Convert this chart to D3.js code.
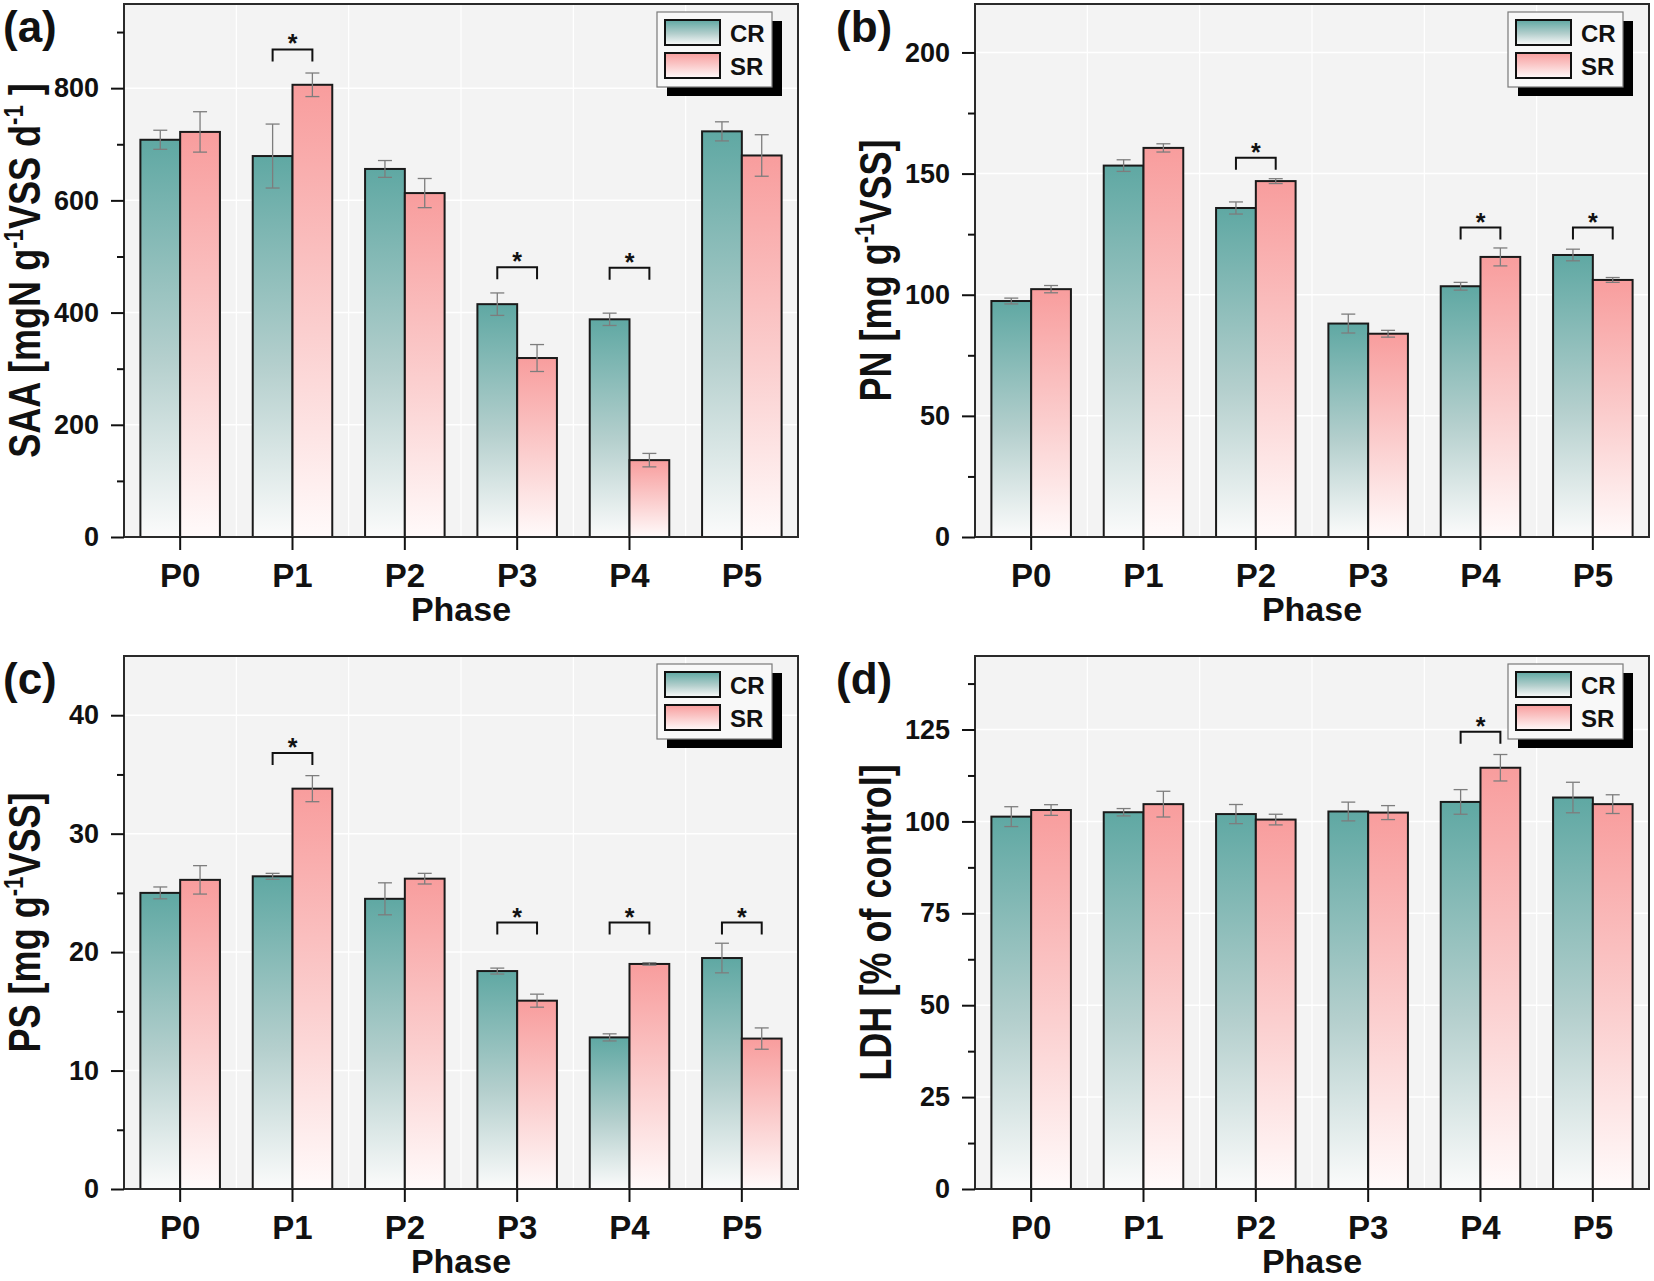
<!DOCTYPE html>
<html>
<head>
<meta charset="utf-8">
<script src="https://cdn.jsdelivr.net/npm/d3@7"></script>
<style>
  html, body { margin: 0; padding: 0; background: #ffffff; }
  svg { display: block; }
  text { font-family: "Liberation Sans", Arial, Helvetica, sans-serif; font-weight: bold; fill: #111; }
</style>
</head>
<body>
<svg id="chart" width="1654" height="1281"></svg>
<script>
// ---------------- DATA ----------------
const phases = ["P0", "P1", "P2", "P3", "P4", "P5"];
const seriesNames = ["CR", "SR"];

// (a) SAA
const saaCR = [708, 679, 656, 415, 388, 723];
const saaCRerr = [17, 57, 15, 20, 11, 17];
const saaSR = [722, 806, 613, 319, 137, 680];
const saaSRerr = [36, 21, 26, 24, 12, 37];
const saaTicks = [0, 200, 400, 600, 800];
const saaMinor = [100, 300, 500, 700, 900];
const saaSigPhases = ["P1", "P3", "P4"];
const saaSigY = [869, 481, 480];

// (b) PN
const pnCR = [97.4, 153.3, 135.8, 88.1, 103.5, 116.4];
const pnCRerr = [1.2, 2.4, 2.5, 3.9, 1.6, 2.4];
const pnSR = [102.3, 160.6, 146.9, 83.9, 115.6, 106.1];
const pnSRerr = [1.5, 1.7, 1.0, 1.4, 3.7, 1.0];
const pnTicks = [0, 50, 100, 150, 200];
const pnMinor = [25, 75, 125, 175];
const pnSigPhases = ["P2", "P4", "P5"];
const pnSigY = [156.5, 127.7, 127.7];

// (c) PS
const psCR = [25.0, 26.4, 24.5, 18.4, 12.8, 19.5];
const psCRerr = [0.5, 0.25, 1.35, 0.25, 0.3, 1.25];
const psSR = [26.1, 33.8, 26.2, 15.9, 19.0, 12.7];
const psSRerr = [1.2, 1.1, 0.45, 0.55, 0.1, 0.9];
const psTicks = [0, 10, 20, 30, 40];
const psMinor = [5, 15, 25, 35];
const psSigPhases = ["P1", "P3", "P4", "P5"];
const psSigY = [36.8, 22.5, 22.5, 22.5];

// (d) LDH
const ldhCR = [101.3, 102.5, 102.0, 102.7, 105.3, 106.5];
const ldhCRerr = [2.7, 1.0, 2.6, 2.55, 3.35, 4.15];
const ldhSR = [103.1, 104.7, 100.5, 102.4, 114.6, 104.7];
const ldhSRerr = [1.45, 3.5, 1.45, 1.9, 3.6, 2.55];
const ldhTicks = [0, 25, 50, 75, 100, 125];
const ldhMinor = [12.5, 37.5, 62.5, 87.5, 112.5, 137.5];
const ldhSigPhases = ["P4"];
const ldhSigY = [124.4];

// ---------------- LAYOUT / STYLE ----------------
const panels = [
  { tag: "(a)", tagX: 3, left: 124, right: 798, top: 4, bottom: 537, ymax: 950,
    cr: saaCR, crErr: saaCRerr, sr: saaSR, srErr: saaSRerr, ticks: saaTicks, minor: saaMinor,
    sigP: saaSigPhases, sigY: saaSigY,
    title: [["SAA [mgN g", false], ["-1", true], ["VSS d", false], ["-1", true], [" ]", false]] },
  { tag: "(b)", tagX: 836, left: 975, right: 1649, top: 4, bottom: 537, ymax: 220,
    cr: pnCR, crErr: pnCRerr, sr: pnSR, srErr: pnSRerr, ticks: pnTicks, minor: pnMinor,
    sigP: pnSigPhases, sigY: pnSigY,
    title: [["PN [mg g", false], ["-1", true], ["VSS]", false]] },
  { tag: "(c)", tagX: 3, left: 124, right: 798, top: 656, bottom: 1189, ymax: 45,
    cr: psCR, crErr: psCRerr, sr: psSR, srErr: psSRerr, ticks: psTicks, minor: psMinor,
    sigP: psSigPhases, sigY: psSigY,
    title: [["PS [mg g", false], ["-1", true], ["VSS]", false]] },
  { tag: "(d)", tagX: 836, left: 975, right: 1649, top: 656, bottom: 1189, ymax: 145,
    cr: ldhCR, crErr: ldhCRerr, sr: ldhSR, srErr: ldhSRerr, ticks: ldhTicks, minor: ldhMinor,
    sigP: ldhSigPhases, sigY: ldhSigY,
    title: [["LDH [% of control]", false]] }
];

const colCR = "#5fa8a3";
const colSR = "#f89d9d";

const svg = d3.select("#chart");
const defs = svg.append("defs");
function makeGrad(id, top, mid, bottom) {
  const g = defs.append("linearGradient").attr("id", id)
    .attr("x1", 0).attr("y1", 0).attr("x2", 0).attr("y2", 1);
  g.append("stop").attr("offset", "0%").attr("stop-color", top);
  g.append("stop").attr("offset", "55%").attr("stop-color", mid);
  g.append("stop").attr("offset", "100%").attr("stop-color", bottom);
}
makeGrad("gCR", colCR, "#b4cfcd", "#fbfbfb");
makeGrad("gSR", colSR, "#fbcfcf", "#fffafa");

panels.forEach(p => {
  const g = svg.append("g");
  const x = d3.scaleBand().domain(phases).range([p.left, p.right]).paddingInner(0).paddingOuter(0);
  const y = d3.scaleLinear().domain([0, p.ymax]).range([p.bottom, p.top]);
  const bw = x.bandwidth() * 0.354;

  // plot background
  g.append("rect").attr("x", p.left).attr("y", p.top)
    .attr("width", p.right - p.left).attr("height", p.bottom - p.top)
    .attr("fill", "#f3f3f3");

  // grid lines
  g.append("g").selectAll("line").data(p.ticks.filter(t => t > 0)).join("line")
    .attr("x1", p.left).attr("x2", p.right)
    .attr("y1", d => y(d)).attr("y2", d => y(d))
    .attr("stroke", "#ffffff").attr("stroke-width", 1.5);
  g.append("g").selectAll("line").data(phases.slice(1)).join("line")
    .attr("x1", d => x(d)).attr("x2", d => x(d))
    .attr("y1", p.top).attr("y2", p.bottom)
    .attr("stroke", "#ffffff").attr("stroke-width", 1.2);

  // bars
  const rows = phases.map((ph, i) => ({ ph, cr: p.cr[i], crE: p.crErr[i], sr: p.sr[i], srE: p.srErr[i] }));
  const cx = d => x(d.ph) + x.bandwidth() / 2;

  g.append("g").selectAll("rect").data(rows).join("rect")
    .attr("x", d => cx(d) - bw).attr("y", d => y(d.cr))
    .attr("width", bw).attr("height", d => y(0) - y(d.cr))
    .attr("fill", "url(#gCR)").attr("stroke", "#1a1a1a").attr("stroke-width", 2);
  g.append("g").selectAll("rect").data(rows).join("rect")
    .attr("x", d => cx(d)).attr("y", d => y(d.sr))
    .attr("width", bw).attr("height", d => y(0) - y(d.sr))
    .attr("fill", "url(#gSR)").attr("stroke", "#1a1a1a").attr("stroke-width", 2);

  // error bars
  const eb = [];
  rows.forEach(d => {
    eb.push({ xc: cx(d) - bw / 2, v: d.cr, e: d.crE });
    eb.push({ xc: cx(d) + bw / 2, v: d.sr, e: d.srE });
  });
  const ebG = g.append("g").attr("stroke", "#7d7d7d").attr("stroke-width", 1.3);
  ebG.selectAll(".v").data(eb).join("line").attr("class", "v")
    .attr("x1", d => d.xc).attr("x2", d => d.xc)
    .attr("y1", d => y(d.v - d.e)).attr("y2", d => y(d.v + d.e));
  ebG.selectAll(".t").data(eb).join("line").attr("class", "t")
    .attr("x1", d => d.xc - 7).attr("x2", d => d.xc + 7)
    .attr("y1", d => y(d.v + d.e)).attr("y2", d => y(d.v + d.e));
  ebG.selectAll(".b").data(eb).join("line").attr("class", "b")
    .attr("x1", d => d.xc - 7).attr("x2", d => d.xc + 7)
    .attr("y1", d => y(d.v - d.e)).attr("y2", d => y(d.v - d.e));

  // significance brackets
  const sig = p.sigP.map((ph, i) => ({ ph, v: p.sigY[i] }));
  const sg = g.append("g");
  sg.selectAll("path").data(sig).join("path")
    .attr("d", d => {
      const c = x(d.ph) + x.bandwidth() / 2;
      const x1 = c - bw / 2, x2 = c + bw / 2, yy = y(d.v);
      return `M${x1},${yy + 12}V${yy}H${x2}V${yy + 12}`;
    })
    .attr("fill", "none").attr("stroke", "#111").attr("stroke-width", 2);
  sg.selectAll("text").data(sig).join("text")
    .attr("x", d => x(d.ph) + x.bandwidth() / 2)
    .attr("y", d => y(d.v) + 3)
    .attr("text-anchor", "middle").attr("font-size", 25).text("*");

  // frame
  g.append("rect").attr("x", p.left).attr("y", p.top)
    .attr("width", p.right - p.left).attr("height", p.bottom - p.top)
    .attr("fill", "none").attr("stroke", "#2a2a2a").attr("stroke-width", 2);

  // y axis
  const ya = g.append("g").attr("transform", `translate(${p.left},0)`)
    .call(d3.axisLeft(y).tickValues(p.ticks).tickSize(13).tickPadding(12).tickFormat(d3.format("d")));
  ya.select(".domain").remove();
  ya.selectAll(".tick line").attr("stroke", "#111").attr("stroke-width", 2);
  ya.selectAll(".tick text").attr("font-size", 27).attr("font-family", "Liberation Sans, Arial, sans-serif")
    .attr("font-weight", "bold").attr("fill", "#111");
  const ym = g.append("g").attr("transform", `translate(${p.left},0)`)
    .call(d3.axisLeft(y).tickValues(p.minor).tickSize(7).tickFormat(""));
  ym.select(".domain").remove();
  ym.selectAll(".tick line").attr("stroke", "#111").attr("stroke-width", 2);
  ym.selectAll(".tick text").remove();

  // x axis
  const xa = g.append("g").attr("transform", `translate(0,${p.bottom})`)
    .call(d3.axisBottom(x).tickSize(13).tickPadding(14));
  xa.select(".domain").remove();
  xa.selectAll(".tick line").attr("stroke", "#111").attr("stroke-width", 2);
  xa.selectAll(".tick text").attr("font-size", 33).attr("font-family", "Liberation Sans, Arial, sans-serif")
    .attr("font-weight", "bold").attr("fill", "#111").attr("dy", "0.71em");

  // x title
  g.append("text").attr("x", (p.left + p.right) / 2).attr("y", p.bottom + 84)
    .attr("text-anchor", "middle").attr("font-size", 34).text("Phase");

  // y title
  const yt = g.append("text")
    .attr("transform", `translate(${p.left - 84},${(p.top + p.bottom) / 2}) rotate(-90) scale(0.82,1)`)
    .attr("text-anchor", "middle").attr("font-size", 44);
  let pendingDy = 0;
  p.title.forEach(([s, sup]) => {
    if (sup) {
      yt.append("tspan").attr("dy", -17 + pendingDy).attr("font-size", 27).text(s);
      pendingDy = 17;
    } else {
      yt.append("tspan").attr("dy", pendingDy).text(s);
      pendingDy = 0;
    }
  });

  // panel tag
  g.append("text").attr("x", p.tagX).attr("y", p.top + 38).attr("font-size", 44).text(p.tag);

  // legend
  const L = g.append("g").attr("transform", `translate(${p.right - 141},${p.top + 8})`);
  L.append("rect").attr("x", 10).attr("y", 9).attr("width", 115).attr("height", 75).attr("fill", "#000");
  L.append("rect").attr("x", 0).attr("y", 0).attr("width", 115).attr("height", 75)
    .attr("fill", "#f8f8f8").attr("stroke", "#7a7a7a").attr("stroke-width", 1.2);
  seriesNames.forEach((name, i) => {
    L.append("rect").attr("x", 8).attr("y", 8 + i * 33).attr("width", 55).attr("height", 25)
      .attr("fill", i === 0 ? "url(#gCR)" : "url(#gSR)").attr("stroke", "#111").attr("stroke-width", 2);
    L.append("text").attr("x", 73).attr("y", 30 + i * 33).attr("font-size", 24).text(name);
  });
});
</script>
</body>
</html>
